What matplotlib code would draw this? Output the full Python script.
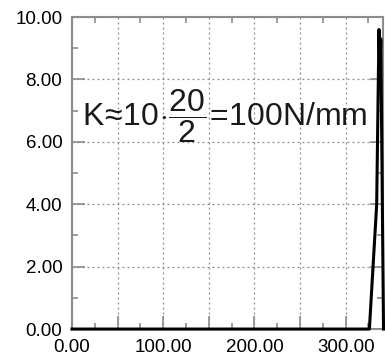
import matplotlib
matplotlib.use("Agg")
import matplotlib.pyplot as plt
from matplotlib.ticker import MultipleLocator, FixedLocator, FuncFormatter

# displacement (mm) vs force (kN)
disp = [0.0, 326.0, 330.0, 334.0, 336.5, 337.5, 338.5, 341.5]
force = [0.0, 0.0, 2.0, 4.0, 9.6, 8.2, 9.3, 0.0]

x_major = [0, 50, 100, 150, 200, 250, 300]
x_labels = {0: "0.00", 100: "100.00", 200: "200.00", 300: "300.00"}
y_major = [0, 2, 4, 6, 8, 10]

plt.rcParams['font.family'] = ['Liberation Sans', 'DejaVu Sans']
plt.rcParams['mathtext.fontset'] = 'custom'
plt.rcParams['mathtext.rm'] = 'Liberation Sans'
plt.rcParams['mathtext.it'] = 'Liberation Sans:italic'

fig = plt.figure(figsize=(3.85, 3.62), dpi=100)
ax = fig.add_axes([0.187, 0.091, 0.808, 0.862])

ax.plot(disp, force, color='black', lw=2.2, clip_on=False, zorder=5)

ax.set_xlim(0, 341)
ax.set_ylim(0, 10)

ax.xaxis.set_major_locator(FixedLocator(x_major))
ax.xaxis.set_minor_locator(MultipleLocator(25))
ax.xaxis.set_major_formatter(FuncFormatter(lambda v, p: x_labels.get(int(round(v)), "")))
ax.yaxis.set_major_locator(FixedLocator(y_major))
ax.yaxis.set_minor_locator(MultipleLocator(1))
ax.yaxis.set_major_formatter(FuncFormatter(lambda v, p: "%.2f" % v))

ax.grid(True, which='major', color='#8a8a8a', linestyle=(0, (1.5, 2.5)), lw=0.9)

gray = '#8c8c8c'
ax.tick_params(which='major', direction='in', length=9.5, width=1.2, color=gray,
               labelsize=13.5, pad=7, top=False, right=True)
ax.tick_params(which='minor', direction='in', length=4.5, width=1.2, color=gray,
               top=True, right=True)
for s in ax.spines.values():
    s.set_color(gray)
    s.set_linewidth(1.5)

label = (r'$\mathrm{K}\!\approx\!\mathrm{10}\!\cdot\!\dfrac{\mathrm{20}}{\mathrm{2}}'
         r'\!=\!\mathrm{100N/mm}$')
ax.text(11, 6.54, label, fontsize=23, ha='left', va='baseline', color='#1a1a1a')

fig.savefig("out.png", dpi=100)
